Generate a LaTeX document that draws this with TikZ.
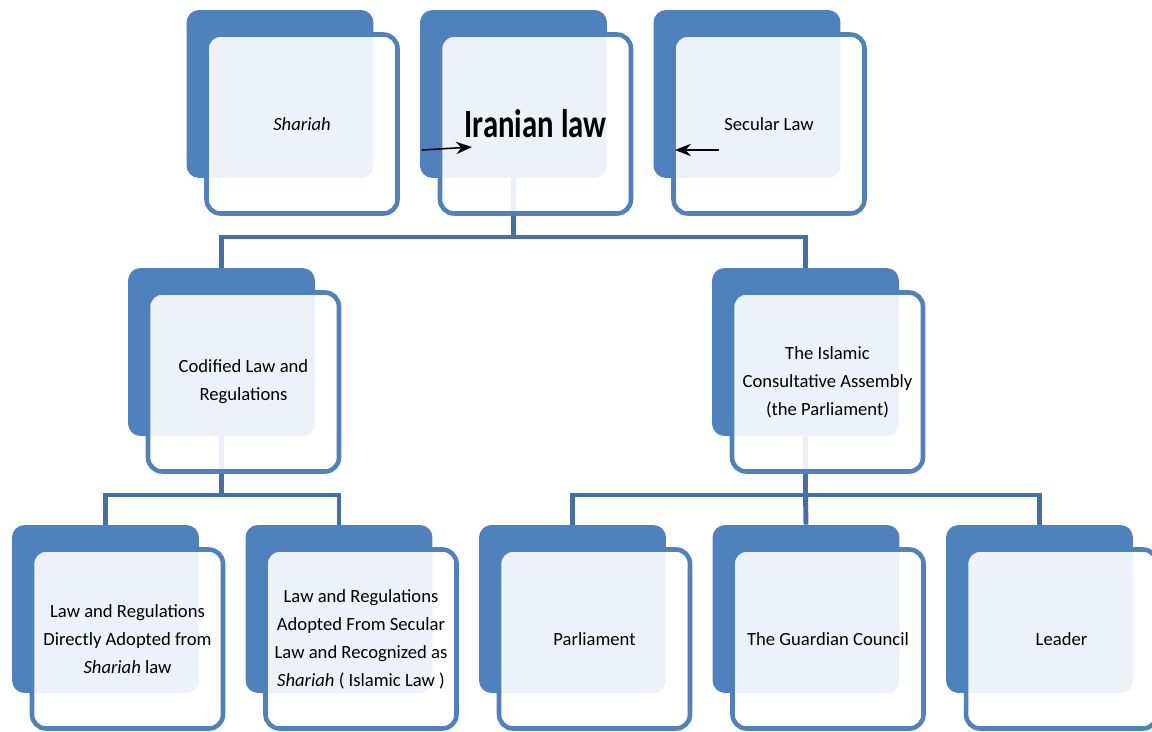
\documentclass[tikz,border=0pt]{standalone}
\usepackage{fontspec}
\setmainfont{Carlito}
\usepackage{tikz}
\usetikzlibrary{arrows.meta,backgrounds}
\definecolor{ofblue}{RGB}{79,129,189}
\definecolor{busblue}{RGB}{68,112,166}
\tikzstyle{arrow} = [line width=0.9pt,->,>={Stealth[length=9pt,width=7pt]},color=black]
\tikzstyle{backbox} = [rectangle, rounded corners=0.25cm, minimum width=3.74cm, minimum height=3.36cm, fill=ofblue, inner sep=0pt]
\tikzstyle{frontbox} = [rectangle, rounded corners=0.28cm, minimum width=3.82cm, minimum height=3.58cm, draw=ofblue, line width=2.6pt, fill=white, fill opacity=0.9, text opacity=1, align=center, font=\fontsize{10.6}{15.9}\selectfont]
\tikzstyle{bus} = [draw=busblue, line width=2.8pt]

\begin{document}
\begin{tikzpicture}[x=0.02cm, y=-0.02cm]
\useasboundingbox (0,0) rectangle (1152,731);
% back plates
\node (shariah-b) [backbox] at (280,94) {};
\node (iran-b) [backbox] at (513.5,94) {};
\node (secular-b) [backbox] at (747,94) {};
\node (codified-b) [backbox] at (221.5,352) {};
\node (islamic-b) [backbox] at (805.5,352) {};
\node (direct-b) [backbox] at (105.5,609) {};
\node (adopted-b) [backbox] at (339,609) {};
\node (parliament-b) [backbox] at (572.5,609) {};
\node (guardian-b) [backbox] at (806,609) {};
\node (leader-b) [backbox] at (1039.5,609) {};

% front boxes
\node (shariah) [frontbox] at ([shift={(22,30)}]shariah-b.center) {\textit{Shariah}};
\node (iran) [frontbox] at ([shift={(22,30)}]iran-b.center) {\scalebox{1}[1.3]{\fontsize{17.5}{20}\selectfont\bfseries Iranian law}};
\node (secular) [frontbox] at ([shift={(22,30)}]secular-b.center) {Secular Law};
\node (codified) [frontbox] at ([shift={(22,30)}]codified-b.center) {Codified Law and\\Regulations};
\node (islamic) [frontbox] at ([shift={(22,30)}]islamic-b.center) {The Islamic\\Consultative Assembly\\(the Parliament)};
\node (direct) [frontbox] at ([shift={(22,30)}]direct-b.center) {Law and Regulations\\Directly Adopted from\\\textit{Shariah} law};
\node (adopted) [frontbox] at ([shift={(22,30)}]adopted-b.center) {Law and Regulations\\Adopted From Secular\\Law and Recognized as\\\textit{Shariah} ( Islamic Law )};
\node (parliament) [frontbox] at ([shift={(22,30)}]parliament-b.center) {Parliament};
\node (guardian) [frontbox] at ([shift={(22,30)}]guardian-b.center) {The Guardian Council};
\node (leader) [frontbox] at ([shift={(22,30)}]leader-b.center) {Leader};

% tree lines
\coordinate (top-bus) at (513.5,237);
\coordinate (left-bus) at (221.5,495);
\coordinate (right-bus) at (805.5,495);
\begin{scope}[on background layer]
\draw[bus] (iran-b.south) -- (top-bus);
\draw[bus] (codified-b.north) |- (top-bus) -| (islamic-b.north);
\draw[bus] (codified-b.south) -- (left-bus);
\draw[bus] (direct-b.north) |- (left-bus) -| (adopted-b.north);
\draw[bus] (islamic-b.south) -- (right-bus) -- (guardian-b.north);
\draw[bus] (parliament-b.north) |- (right-bus) -| (leader-b.north);
\end{scope}

% arrows
\coordinate (iran-in) at (422,150);
\coordinate (iran-tip) at (472,147);
\coordinate (secular-in) at (719,150);
\coordinate (secular-tip) at (675,150);
\draw[arrow] (iran-in) -- (iran-tip);
\draw[arrow] (secular-in) -- (secular-tip);
\end{tikzpicture}
\end{document}
